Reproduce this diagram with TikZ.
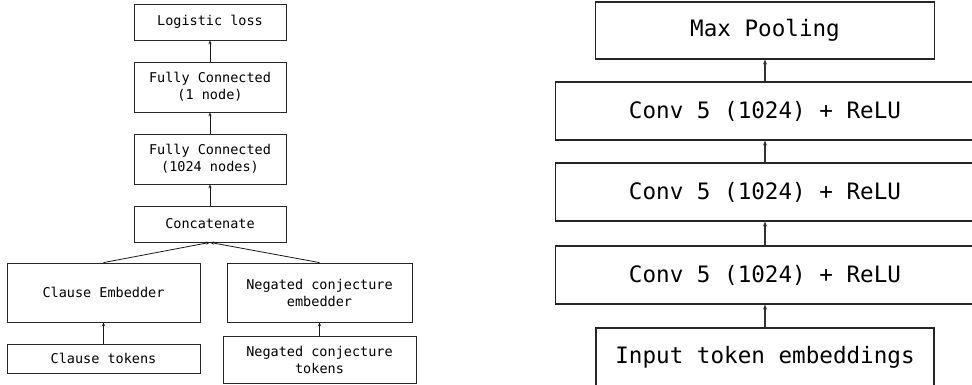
\documentclass[tikz,border=0pt]{standalone}
\usepackage{fontspec}
\setmonofont{DejaVu Sans Mono}
\usetikzlibrary{positioning,arrows.meta}

\tikzset{
	layer/.style={draw=black!85, line width=0.8pt, inner sep=0pt, align=center,
		minimum width=152pt, font=\ttfamily\fontsize{13.5}{17}\selectfont},
	convlayer/.style={draw=black!85, line width=1.1pt, inner sep=0pt, align=center,
		minimum height=58pt, font=\ttfamily\fontsize{22.6}{27}\selectfont},
	flow/.style={-{Stealth[length=4pt,width=3.2pt]}, line width=0.8pt, draw=black!90},
	bigflow/.style={-{Stealth[length=5pt,width=4pt]}, line width=1.1pt, draw=black!80},
}

\begin{document}
\begin{tikzpicture}[x=1pt, y=-1pt]
	\useasboundingbox (0,0) rectangle (972,385);
	\clip (0,0) rectangle (972,385);
	
	% left: clause selection model
	\node[layer, minimum height=36pt] (concat) at (210,224) {Concatenate};
	\node[layer, minimum height=50pt, above=21.2pt of concat] (fcbig) {Fully Connected\\(1024 nodes)};
	\node[layer, minimum height=50pt, above=21.2pt of fcbig] (fcone) {Fully Connected\\(1 node)};
	\node[layer, minimum height=36pt, above=21.2pt of fcone] (loss) {Logistic loss};
	
	\node[layer, minimum width=193pt, minimum height=59pt] (clauseemb) at (103.5,292.5) {Clause Embedder};
	\node[layer, minimum width=193pt, minimum height=29pt, below=21.2pt of clauseemb] (clausetok) {Clause tokens};
	\node[layer, minimum width=185pt, minimum height=59pt] (conjemb) at (319.5,292.5) {Negated conjecture\\embedder};
	\node[layer, minimum width=193pt, minimum height=47pt, below=13.2pt of conjemb] (conjtok) {Negated conjecture\\tokens};
	
	\draw[flow] (concat) -- (fcbig);
	\draw[flow] (fcbig) -- (fcone);
	\draw[flow] (fcone) -- (loss);
	\draw[flow] (clauseemb.north) -- (concat.south);
	\draw[flow] (conjemb.north) -- (concat.south);
	\draw[flow] (clausetok) -- (clauseemb);
	\draw[flow] (conjtok) -- (conjemb);
	
	% right: convolutional embedder
	\node[convlayer, minimum width=338pt, minimum height=59pt] (input) at (765,357.5) {Input token embeddings};
	\node[convlayer, minimum width=419pt, above=22.9pt of input] (convc) {Conv 5 (1024) + ReLU};
	\node[convlayer, minimum width=419pt, above=23.9pt of convc] (convb) {Conv 5 (1024) + ReLU};
	\node[convlayer, minimum width=419pt, above=21.9pt of convb] (conva) {Conv 5 (1024) + ReLU};
	\node[convlayer, minimum width=339pt, minimum height=57pt, above=21.9pt of conva] (pool) {Max Pooling};
	
	\draw[bigflow] (input) -- (convc);
	\draw[bigflow] (convc) -- (convb);
	\draw[bigflow] (convb) -- (conva);
	\draw[bigflow] (conva) -- (pool);
\end{tikzpicture}
\end{document}
